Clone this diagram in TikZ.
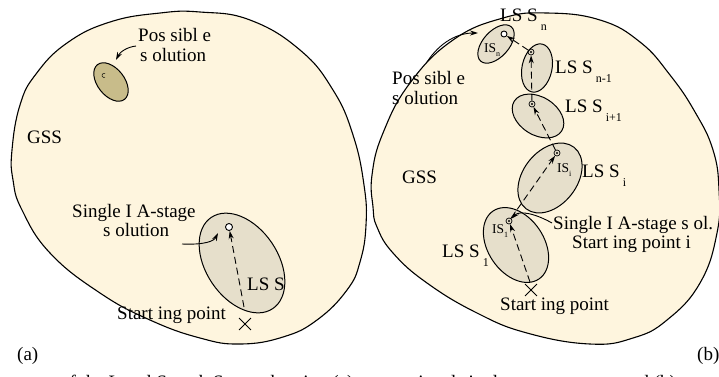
\documentclass[tikz,border=0pt]{standalone}
\usepackage{fontspec}
\setmainfont{Liberation Serif}
\usetikzlibrary{shapes.geometric,shapes.misc,arrows.meta}
\definecolor{gssfill}{HTML}{FEF5DE}
\definecolor{lssfill}{HTML}{E6DFCB}
\definecolor{possfill}{HTML}{C8BC8A}
\newcommand\lsub[1]{\,\raisebox{-9pt}{\fontsize{12}{12}\selectfont #1}}
\newcommand\isub[1]{\raisebox{-4pt}{\fontsize{8}{8}\selectfont #1}}
\begin{document}
\begin{tikzpicture}[x=1pt,y=-1pt,line join=round,
  txt/.style={font=\fontsize{19}{21}\selectfont, inner sep=0pt, anchor=base west},
  istxt/.style={font=\fontsize{13.5}{14}\selectfont, inner sep=0pt, anchor=base west},
  space/.style={draw=black, line width=1.1pt, fill=gssfill},
  lss/.style={ellipse, draw, line width=1pt, fill=lssfill, inner sep=0pt},
  opt/.style={circle, draw, fill=white, line width=0.9pt, inner sep=0pt, minimum size=7pt},
  odot/.style={circle, draw, line width=0.7pt, inner sep=0pt, minimum size=6pt,
    path picture={\fill (path picture bounding box.center) circle[radius=1.1pt];}},
  xmark/.style={cross out, draw, line width=0.9pt, inner sep=0pt, minimum size=11pt},
  darr/.style={line width=0.9pt, dash pattern=on 7pt off 4pt, -{Stealth[length=8pt,width=5pt]}},
  carr/.style={line width=0.9pt, -{Stealth[length=8pt,width=5pt]}}]
\useasboundingbox (0,0) rectangle (719,376);
\fill[white] (0,0) rectangle (719,376);

% ---------------- panel (a) ----------------
\draw[space] plot[smooth cycle, tension=0.75] coordinates {
  (12,150) (20,105) (36,74) (67,43) (110,22) (160,13) (200,12) (250,20)
  (300,50) (333,90) (353,135) (364,185) (366,225) (360,262) (347,290)
  (317,320) (283,337) (240,344) (200,338) (150,320) (100,293) (50,253)
  (22,210) (13,180)};

\node[ellipse, draw, line width=1pt, fill=possfill, inner sep=0pt,
      minimum width=44pt, minimum height=27pt, rotate=-52] (posA) at (111,82) {};
\draw[line width=0.5pt] (105,77.2) arc[start angle=60, end angle=300, radius=2];
\node[txt] (possA1) at (138,41) {Pos sibl e};
\node[txt] (possA2) at (140,61) {s olution};
\coordinate (pA) at (136,46);
\coordinate (pAtip) at (116,60);
\draw[carr] (pA) .. controls (127,47) and (120,52) .. (pAtip);

\node[txt] (gssA) at (27,143) {GSS};

\node[lss, minimum width=110pt, minimum height=72pt, rotate=-56] (lssA) at (242,263) {};
\node[opt] (solA) at (229,227) {};
\coordinate (sA) at (244,307);
\draw[darr] (sA) -- (solA);
\node[txt] (lssAl) at (247,290) {LS S};
\node[txt] (singA1) at (72,217) {Single I A-stage};
\node[txt] (singA2) at (103,236) {s olution};
\coordinate (sgA) at (182,244);
\coordinate (sgAtip) at (218,233);
\draw[carr] (sgA) .. controls (205,245) and (214,241) .. (sgAtip);
\node[xmark] (xA) at (245,324) {};
\node[txt] (startA) at (117,319) {Start ing point};
\node[txt] (labA) at (17,360) {(a)};

% ---------------- panel (b) ----------------
\draw[space] plot[smooth cycle, tension=0.75] coordinates {
  (373,207) (372,175) (383,133) (410,83) (453,40) (503,18) (547,13) (600,20)
  (640,42) (670,75) (695,112) (713,150) (719,190) (717,233) (700,283)
  (667,320) (633,338) (590,344) (527,333) (477,313) (427,283) (393,253) (377,227)};

\node[lss, minimum width=82pt, minimum height=56pt, rotate=-56] (lss1) at (516,245) {};
\node[lss, minimum width=78pt, minimum height=54pt, rotate=52] (lssi) at (550,178) {};
\node[lss, minimum width=56pt, minimum height=38pt, rotate=-32] (lssi1) at (538,116) {};
\node[lss, minimum width=49pt, minimum height=30pt, rotate=78] (lssn1) at (537,68) {};
\node[lss, minimum width=46pt, minimum height=26pt, rotate=48] (lssn) at (496,44) {};

\node[odot] (d1) at (509,221) {};
\node[odot] (di) at (557,153) {};
\node[odot] (di1) at (532,104) {};
\node[odot] (dn1) at (531,52) {};
\node[opt, minimum size=6pt] (sn) at (504,34) {};
\coordinate (s1) at (530,282);
\node[xmark] (xB) at (531,290) {};

\draw[darr] (s1) -- (d1);
\draw[darr] (d1) -- (di);
\draw[darr] (di) -- (di1);
\draw[darr] (di1) -- (dn1);
\draw[darr] (dn1) -- (sn);

\node[txt] (lssnl) at (500,21) {LS S\lsub{n}};
\node[istxt] (isn) at (484,52) {IS\isub{n}};
\node[txt] (lssn1l) at (555,73) {LS S\lsub{n-1}};
\node[txt] (lssi1l) at (565,112) {LS S\lsub{i+1}};
\node[istxt] (isi) at (557,172) {IS\isub{i}};
\node[txt] (lssil) at (582,177) {LS S\lsub{i}};
\node[txt] (gssB) at (402,183) {GSS};
\node[istxt] (is1) at (492,233) {IS\isub{1}};
\node[txt] (lss1l) at (442,257) {LS S\lsub{1}};
\node[txt] (singB1) at (553,229) {Single I A-stage s ol.};
\node[txt] (singB2) at (572,248) {Start ing point i};
\coordinate (sgB) at (552,223);
\draw[carr] (sgB) .. controls (536,214) and (520,210) .. (d1);
\node[txt] (startB) at (500,310) {Start ing point};
\node[txt] (possB1) at (392,84) {Pos sibl e};
\node[txt] (possB2) at (392,104) {s olution};
\coordinate (pB) at (427,62);
\coordinate (pBtip) at (478,33);
\draw[carr] (pB) .. controls (440,42) and (458,33) .. (pBtip);
\node[txt] (labB) at (697,360) {(b)};

% cut caption line
\node[txt] (cap) at (32,388.5) {ept of the Local Search Space showing (a) conventional single-stage strategy and (b)};
\end{tikzpicture}
\end{document}
